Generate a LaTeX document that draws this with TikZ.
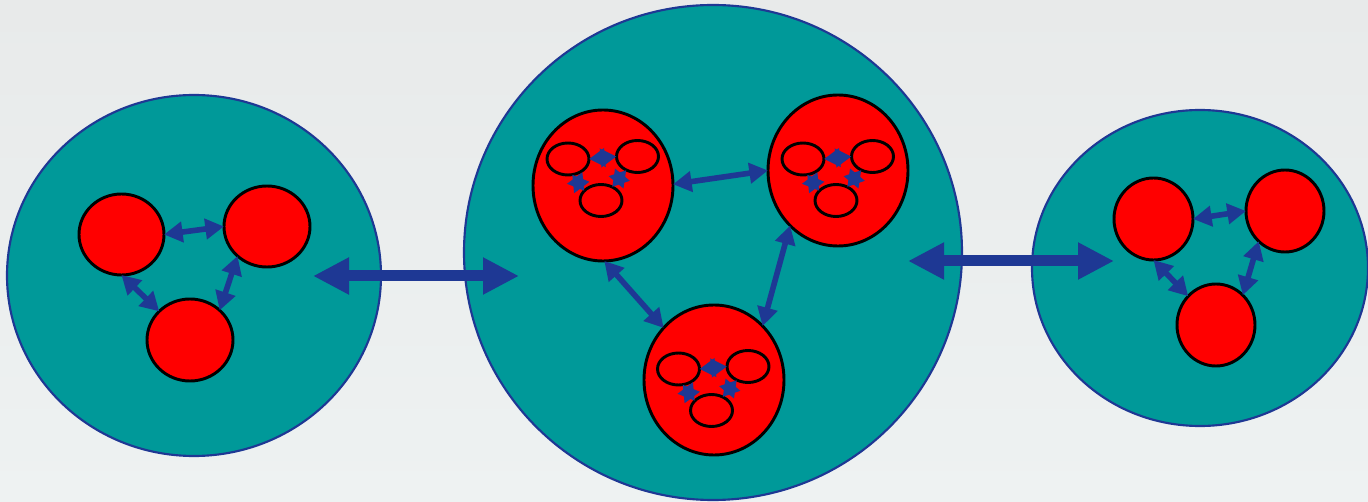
\documentclass[tikz,border=0pt]{standalone}
\usetikzlibrary{shapes.geometric,arrows.meta}

\definecolor{cellteal}{RGB}{0,153,153}
\definecolor{linkblue}{RGB}{30,56,148}
\definecolor{bgtop}{RGB}{232,234,234}
\definecolor{bgbottom}{RGB}{238,242,242}

\tikzset{
  dims/.style 2 args={minimum width=#1*1.5pt, minimum height=#2*1.5pt},
  cell/.style={ellipse, inner sep=0pt, outer sep=0pt, draw=linkblue, line width=1.6pt, fill=cellteal},
  blob/.style={ellipse, inner sep=0pt, outer sep=0pt, draw=black, line width=2.2pt, fill=red},
  organelle/.style={blob, dims={21}{16}},
  link/.style={linkblue, line width=4.2pt, {Triangle[length=14pt,width=15pt]}-{Triangle[length=14pt,width=15pt]}},
  tiny/.style={linkblue, line width=3pt, {Triangle[length=12pt,width=13.5pt]}-{Triangle[length=12pt,width=13.5pt]}},
  bigarrow/.style={linkblue, line width=8.25pt, {Triangle[length=27pt,width=26pt]}-{Triangle[length=27pt,width=26pt]}},
}

\begin{document}
\begin{tikzpicture}[x=0.75pt,y=0.75pt,yscale=-1,xscale=1]
            %Background
            \useasboundingbox (0,0) rectangle (1368,502);
            \shade [top color=bgtop, bottom color=bgbottom] (0,0) rectangle (1368,502);

            %Shape: Big cells
            \node [cell, dims={187}{180.5}] (left) at (194,275.5) {};
            \node [cell, dims={249}{247.5}] (mid) at (713,252.5) {};
            \node [cell, dims={168}{158}] (right) at (1200,268) {};

            %Straight Lines: between the cells
            \coordinate (gapL1) at (313,276);
            \coordinate (gapL2) at (519,276);
            \coordinate (gapR1) at (908,261);
            \coordinate (gapR2) at (1114,261);
            \draw [bigarrow] (gapL1) -- (gapL2);
            \draw [bigarrow] (gapR1) -- (gapR2);

            %Shape: Circle, left cell
            \node [blob, dims={42.5}{40.5}] (a) at (121.5,234.5) {};
            \node [blob, dims={43}{40.5}] (b) at (267,226.5) {};
            \node [blob, dims={43}{41}] (c) at (190,340) {};
            %Shape: Circle, middle cell
            \node [blob, dims={70}{75.5}] (m1) at (603,185.5) {};
            \node [blob, dims={70}{75.5}] (m2) at (838,170.5) {};
            \node [blob, dims={70}{75}] (m3) at (714,380) {};
            %Shape: Circle, right cell
            \node [blob, dims={39.5}{41}] (r1) at (1153.5,219) {};
            \node [blob, dims={39}{41}] (r2) at (1285,211) {};
            \node [blob, dims={39}{41}] (r3) at (1216,325) {};

            %Straight Lines
            \draw [link] (a.east) -- (b.west);
            \draw [link] (a.south) -- (c.137);
            \draw [link] (b.225) -- (c.45);
            \draw [link] (m1.1) -- (m2.180);
            \draw [link] (m1.-89) -- (m3.134);
            \draw [link] (m2.229) -- (m3.48);
            \draw [link] (r1.east) -- (r2.west);
            \draw [link] (r1.south) -- (r3.134);
            \draw [link] (r2.229) -- (r3.48);

            %Shape: small ellipses inside the middle ones
            \foreach \g/\gx/\gy in {1/568/159, 2/803/159, 3/678.5/369} {
              \node [organelle] (o\g-l) at (\gx,\gy) {};
              \node [organelle] (o\g-r) at (\gx+69.5,\gy-2.5) {};
              \node [organelle] (o\g-b) at (\gx+33,\gy+41.5) {};
              \draw [tiny] (o\g-l.east) -- (o\g-r.west);
              \draw [tiny] (o\g-l.-75) -- (o\g-b.150);
              \draw [tiny] (o\g-r) -- (o\g-b);
            }
\end{tikzpicture}
\end{document}
